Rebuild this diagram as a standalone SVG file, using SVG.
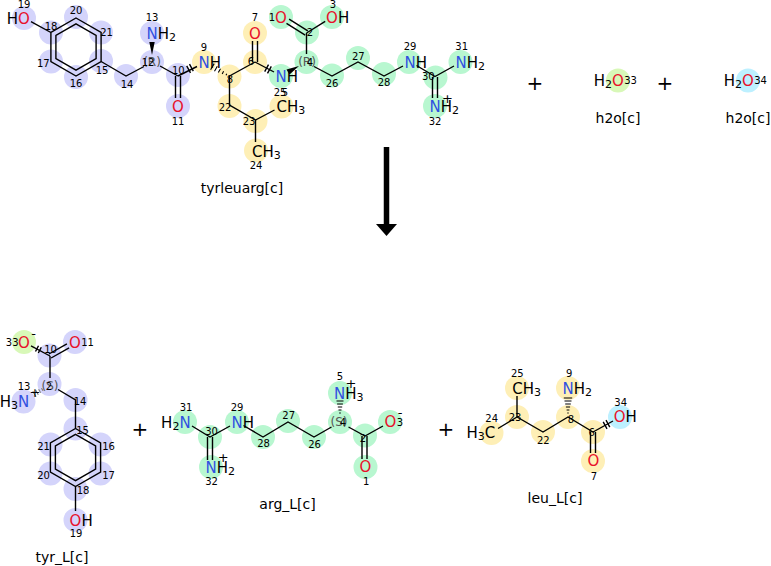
<svg xmlns="http://www.w3.org/2000/svg" width="771" height="566" viewBox="0 0 771 566">
<style>
.b{stroke:#000;stroke-width:1.4;fill:none}
.h{stroke:#000;stroke-width:1.1;fill:none}
.hg{stroke:#777;stroke-width:1.1;fill:none}
.w{fill:#000;stroke:none}
text{font-family:"DejaVu Sans","Liberation Sans",sans-serif}
.t{font-size:15px;fill:#000}
.i{font-size:10px;text-anchor:middle;fill:#000}
.s{font-size:12px;text-anchor:middle;fill:#555}
.m{text-anchor:middle}
.e{text-anchor:end}
.n{fill:#3050e0}
.o{fill:#e8102a}
.q{font-size:13px;text-anchor:middle;fill:#000}
.lbl{font-size:14px;text-anchor:middle;fill:#000}
.plus{font-size:20px;text-anchor:middle;fill:#000}
.cl{fill:#d4d4fb}.cg{fill:#b8f7d0}.cy{fill:#feefb6}.cw{fill:#d8f8b8}.cc{fill:#bdf0ff}
</style>
<rect width="771" height="566" fill="#fff"/>

<g id="tyrleuarg">
<g class="cl">
<circle cx="24" cy="18" r="12"/><circle cx="51" cy="32.5" r="12"/><circle cx="76" cy="17" r="12"/><circle cx="101" cy="32.5" r="12"/><circle cx="101" cy="61" r="12"/><circle cx="76" cy="77" r="12"/><circle cx="51" cy="61.5" r="12"/><circle cx="126" cy="76" r="12"/><circle cx="152" cy="62" r="12"/><circle cx="152" cy="33" r="12"/><circle cx="178" cy="75" r="12"/><circle cx="178" cy="106" r="12"/>
</g>
<g class="cy">
<circle cx="204" cy="62" r="12"/><circle cx="229.5" cy="76.5" r="12"/><circle cx="255" cy="62" r="12"/><circle cx="255" cy="33" r="12"/><circle cx="229.5" cy="106" r="12"/><circle cx="255.5" cy="121" r="12"/><circle cx="281.5" cy="106.5" r="12"/><circle cx="256" cy="150.5" r="12"/>
</g>
<g class="cg">
<circle cx="281" cy="76" r="12"/><circle cx="306.5" cy="62" r="12"/><circle cx="307" cy="32.5" r="12"/><circle cx="281" cy="17" r="12"/><circle cx="332" cy="17" r="12"/><circle cx="332" cy="75.5" r="12"/><circle cx="358" cy="58" r="12"/><circle cx="384" cy="74" r="12"/><circle cx="409" cy="62" r="12"/><circle cx="435.5" cy="77.5" r="12"/><circle cx="460.5" cy="62" r="12"/><circle cx="435" cy="106" r="12"/>
</g>
<path class="b" d="M31,21.7L50.9,32.5"/>
<path class="b" d="M76,18L101.1,32.5L101.1,61.5L76,76L50.9,61.5L50.9,32.5Z"/>
<path class="b" d="M76,23.8L96.1,35.4L96.1,58.6L76,70.2L55.9,58.6L55.9,35.4Z"/>
<path class="b" d="M101.1,61.5L126,76L144,66.5"/>
<path class="b" d="M160,66L178,76"/>
<polygon class="w" points="152,55 149.3,42 154.7,42"/>
<path class="b" d="M175.5,76L175.5,98M180.5,76L180.5,98"/>
<path class="b" d="M178,76L197,66.5"/>
<path class="b" d="M186.7,65.8L190.5,72.8M189.5,64.2L193.3,71.2"/>
<path class="h" d="M226.8,73.8L226,75.2M223.6,71.3L222.2,73.9M220.5,68.7L218.3,72.5M217.3,66.2L214.5,71.2M214.2,63.6L210.6,69.8"/>
<path class="b" d="M229.5,76L255,62"/>
<path class="b" d="M252.5,62L252.5,41M257.5,62L257.5,41"/>
<path class="b" d="M255,62L274,72"/>
<path class="b" d="M268.5,64.7L264.7,71.7M271.3,66.3L267.5,73.3"/>
<polygon class="w" points="299,66 289.5,74.6 286.5,69.4"/>
<path class="b" d="M306.5,54L306.5,33"/>
<path class="b" d="M307.8,30.9L289.1,19.2M305.2,35.1L286.5,23.4"/>
<path class="b" d="M306.5,33L325.2,21.3"/>
<path class="b" d="M229.5,76L229.5,105L255.5,120L274.5,110"/>
<path class="b" d="M255.5,120L255.5,142"/>
<path class="b" d="M314,66.5L332,76L358,62L384,76L403,66"/>
<path class="b" d="M416.5,65.5L435,76.5L454,66"/>
<path class="b" d="M432.5,77L432.5,98M437.5,77L437.5,98"/>
<text class="t o m" x="24" y="23.5">O</text><text class="t e" x="18.1" y="23.5">H</text>
<text class="t" x="146.4" y="38.5"><tspan class="n">N</tspan>H<tspan font-size="11" dy="2">2</tspan></text>
<text class="t o m" x="178" y="111.5">O</text>
<text class="t" x="198.4" y="67.5"><tspan class="n">N</tspan>H</text>
<text class="t o m" x="255" y="38.5">O</text>
<text class="t" x="275.4" y="81.5"><tspan class="n">N</tspan>H</text>
<text class="t o m" x="281" y="22.5">O</text>
<text class="t" x="326.1" y="22.5"><tspan class="o">O</tspan>H</text>
<text class="t" x="276.5" y="112">CH<tspan font-size="11" dy="2">3</tspan></text>
<text class="t" x="252" y="156.5">CH<tspan font-size="11" dy="2">3</tspan></text>
<text class="t" x="404.4" y="67.5"><tspan class="n">N</tspan>H</text>
<text class="t" x="455.4" y="67.5"><tspan class="n">N</tspan>H<tspan font-size="11" dy="2">2</tspan></text>
<text class="t" x="429.4" y="111.5"><tspan class="n">N</tspan>H<tspan font-size="11" dy="2">2</tspan></text>
<text class="q" x="447.5" y="103">+</text>
<text class="s" x="152" y="66">(R)</text>
<text class="s" x="307" y="66">(R)</text>
<text class="i" x="24" y="7.6">19</text><text class="i" x="51" y="29.6">18</text><text class="i" x="76" y="14.3">20</text><text class="i" x="106.5" y="36">21</text><text class="i" x="102" y="73.6">15</text><text class="i" x="76" y="87">16</text><text class="i" x="43.3" y="67">17</text><text class="i" x="127" y="87.6">14</text><text class="i" x="152" y="20.6">13</text><text class="i" x="148" y="66">12</text><text class="i" x="178.3" y="74.3">10</text><text class="i" x="178" y="124.6">11</text><text class="i" x="204" y="50.6">9</text><text class="i" x="230" y="82.6">8</text><text class="i" x="251" y="65.3">6</text><text class="i" x="255" y="20.6">7</text><text class="i" x="280" y="96">25</text><text class="i" x="285" y="96">5</text><text class="i" x="310" y="66">4</text><text class="i" x="310" y="36">2</text><text class="i" x="272" y="20.6">1</text><text class="i" x="333" y="7.6">3</text><text class="i" x="225" y="111">22</text><text class="i" x="249" y="125.3">23</text><text class="i" x="256" y="168.6">24</text><text class="i" x="332" y="86.6">26</text><text class="i" x="358.3" y="59.6">27</text><text class="i" x="384" y="86.3">28</text><text class="i" x="410" y="50.3">29</text><text class="i" x="428.3" y="80.3">30</text><text class="i" x="461.7" y="50.3">31</text><text class="i" x="435" y="125.3">32</text>
<text class="lbl" x="242" y="193">tyrleuarg[c]</text>
</g>

<g id="h2o_1">
<circle class="cw" cx="618" cy="80.5" r="12"/>
<text class="t e" x="612.1" y="86">H<tspan font-size="11" dy="2">2</tspan></text>
<text class="t o m" x="618" y="86">O</text>
<text class="i" x="630.5" y="84.3">33</text>
<text class="lbl" x="618" y="123">h2o[c]</text>
</g>

<g id="h2o_2">
<circle class="cc" cx="748" cy="80.5" r="12"/>
<text class="t e" x="742.1" y="86">H<tspan font-size="11" dy="2">2</tspan></text>
<text class="t o m" x="748" y="86">O</text>
<text class="i" x="760.5" y="84.3">34</text>
<text class="lbl" x="748" y="123">h2o[c]</text>
</g>

<g id="tyr_L">
<circle class="cw" cx="24" cy="342" r="12"/>
<g class="cl">
<circle cx="49.5" cy="355.5" r="12"/><circle cx="75" cy="342" r="12"/><circle cx="49.5" cy="384" r="12"/><circle cx="23.5" cy="401.5" r="12"/><circle cx="75.5" cy="400" r="12"/><circle cx="75.5" cy="428.5" r="12"/><circle cx="100.5" cy="444.5" r="12"/><circle cx="100.5" cy="473.5" r="12"/><circle cx="75.5" cy="489" r="12"/><circle cx="50.5" cy="473.5" r="12"/><circle cx="50.5" cy="444.5" r="12"/><circle cx="75.5" cy="520" r="12"/>
</g>
<path class="b" d="M50,356L31,345.8"/>
<path class="b" d="M35.5,351.5L38.5,345.7M38.3,353L41.3,347.2"/>
<path class="b" d="M51.1,358L69.1,347.9M48.9,354L66.9,343.9"/>
<path class="b" d="M50,356L50,378"/>
<path class="hg" d="M43,390.8L41.5,388.2M40.6,392.7L38.6,389.3M38.3,394.8L35.7,390.2M36,396.8L32.8,391.2"/>
<path class="b" d="M58,389.5L75.5,400L75.5,428.5"/>
<path class="b" d="M75.5,428.5L100.6,443L100.6,472L75.5,486.5L50.4,472L50.4,443Z"/>
<path class="b" d="M75.5,434.3L95.6,445.9L95.6,469.1L75.5,480.7L55.4,469.1L55.4,445.9Z"/>
<path class="b" d="M75.5,486.5L75.5,511"/>
<text class="t o m" x="24" y="347.5">O</text>
<text class="q" x="33.5" y="337.5" font-size="11">-</text>
<text class="i e" x="18.5" y="345.5">33</text>
<text class="t o m" x="75" y="347.5">O</text>
<text class="i" x="87.5" y="345.5">11</text>
<text class="i" x="50.5" y="352.6">10</text>
<text class="t e" x="17.9" y="407">H<tspan font-size="11" dy="2">3</tspan></text>
<text class="t n m" x="23.5" y="407">N</text>
<text class="q" x="35" y="397">+</text>
<text class="i" x="24" y="390.3">13</text>
<text class="s" x="50" y="390">(S)</text>
<text class="i" x="49" y="390">2</text>
<text class="i" x="80" y="405.3">14</text><text class="i" x="82.5" y="433.6">15</text><text class="i" x="108.5" y="449.6">16</text><text class="i" x="108.5" y="478.6">17</text><text class="i" x="83" y="494.3">18</text><text class="i" x="43.5" y="478.6">20</text><text class="i" x="43.5" y="449.6">21</text>
<text class="t" x="69.6" y="525.5"><tspan class="o">O</tspan>H</text>
<text class="i" x="76" y="536.6">19</text>
<text class="lbl" x="62" y="562">tyr_L[c]</text>
</g>

<g id="arg_L">
<g class="cg">
<circle cx="185" cy="422" r="12"/><circle cx="210" cy="437" r="12"/><circle cx="211" cy="467" r="12"/><circle cx="237" cy="422" r="12"/><circle cx="263" cy="437" r="12"/><circle cx="288" cy="421" r="12"/><circle cx="314" cy="437" r="12"/><circle cx="340" cy="422" r="12"/><circle cx="340" cy="393" r="12"/><circle cx="365" cy="435.5" r="12"/><circle cx="390" cy="422" r="12"/><circle cx="365.5" cy="467" r="12"/>
</g>
<path class="b" d="M192,426L210,437L230,426"/>
<path class="b" d="M207.5,437L207.5,460M212.5,437L212.5,460"/>
<path class="b" d="M243.5,425.5L263,437L288,422L314,437L331.5,427"/>
<path class="h" d="M339.2,413L340.8,413M338.5,410L341.5,410M337.8,407L342.2,407M337.1,404L342.9,404M336.5,401L343.5,401"/>
<path class="b" d="M348.5,427L365,436L383,426"/>
<path class="b" d="M362,436L362,459M367,436L367,459"/>
<text class="t e" x="179.4" y="427.5">H<tspan font-size="11" dy="2">2</tspan></text>
<text class="t n m" x="185" y="427.5">N</text>
<text class="i" x="186" y="410.6">31</text>
<text class="i" x="211.5" y="434.6">30</text>
<text class="t" x="205.4" y="472.5"><tspan class="n">N</tspan>H<tspan font-size="11" dy="2">2</tspan></text>
<text class="q" x="223.3" y="461.5">+</text>
<text class="i" x="211.5" y="485.3">32</text>
<text class="t" x="231.4" y="427.5"><tspan class="n">N</tspan>H</text>
<text class="i" x="237" y="410.6">29</text>
<text class="i" x="263.5" y="447">28</text><text class="i" x="288.7" y="419.3">27</text><text class="i" x="314.5" y="447.6">26</text>
<text class="s" x="339" y="426">(S)</text>
<text class="i" x="343" y="426.3">4</text>
<text class="t" x="333.9" y="399"><tspan class="n">N</tspan>H<tspan font-size="11" dy="2">3</tspan></text>
<text class="q" x="351" y="388">+</text>
<text class="i" x="340" y="380.3">5</text>
<text class="i" x="363" y="441.6">2</text>
<text class="t o m" x="390.5" y="427">O</text>
<text class="q" x="400" y="417" font-size="11">-</text>
<text class="i" x="400" y="426.3">3</text>
<text class="t o m" x="365.5" y="472">O</text>
<text class="i" x="366.3" y="485.3">1</text>
<text class="lbl" x="287.5" y="509">arg_L[c]</text>
</g>

<g id="leu_L">
<g class="cy">
<circle cx="491.5" cy="433" r="12"/><circle cx="517" cy="417" r="12"/><circle cx="517" cy="388" r="12"/><circle cx="543" cy="432" r="12"/><circle cx="568" cy="417" r="12"/><circle cx="568" cy="388" r="12"/><circle cx="593" cy="432" r="12"/><circle cx="593" cy="461" r="12"/>
</g>
<circle class="cc" cx="620" cy="417" r="12"/>
<path class="b" d="M498,428.5L517,417L543,432L568,417L593,432L613,421"/>
<path class="b" d="M517,417L517,396"/>
<path class="h" d="M567.3,413L568.7,413M566.6,410L569.4,410M565.9,407L570.1,407M565.2,404L570.8,404M564.5,401L571.5,401M563.8,398L572.2,398"/>
<path class="b" d="M590.5,432L590.5,453M595.5,432L595.5,453"/>
<path class="b" d="M603.2,421.8L607,428.8M606,420.2L609.8,427.2"/>
<text class="t e" x="484.8" y="437.5">H<tspan font-size="11" dy="2">3</tspan></text>
<text class="t m" x="490" y="437.5">C</text>
<text class="i" x="491.7" y="422">24</text>
<text class="i" x="515" y="421.3">23</text>
<text class="t" x="512.3" y="393.8">CH<tspan font-size="11" dy="2">3</tspan></text>
<text class="i" x="517.3" y="377">25</text>
<text class="i" x="543.3" y="443.6">22</text>
<text class="i" x="571" y="423" font-size="9">8</text>
<text class="t" x="562.4" y="393.8"><tspan class="n">N</tspan>H<tspan font-size="11" dy="2">2</tspan></text>
<text class="i" x="569.3" y="377">9</text>
<text class="i" x="591.7" y="436" font-size="9">6</text>
<text class="t o m" x="593.3" y="466.2">O</text>
<text class="i" x="594" y="480.3">7</text>
<text class="t" x="613.8" y="422.2"><tspan class="o">O</tspan>H</text>
<text class="i" x="620.7" y="406.3">34</text>
<text class="lbl" x="555" y="503">leu_L[c]</text>
</g>

<g id="operators">
<text class="plus" x="535" y="90">+</text>
<text class="plus" x="665" y="90">+</text>
<text class="plus" x="140" y="436">+</text>
<text class="plus" x="446" y="436">+</text>
</g>

<g id="connectors">
<rect x="383.75" y="147" width="5.5" height="78" fill="#000"/>
<polygon points="376,224 397,224 386.5,236" fill="#000"/>
</g>
</svg>
